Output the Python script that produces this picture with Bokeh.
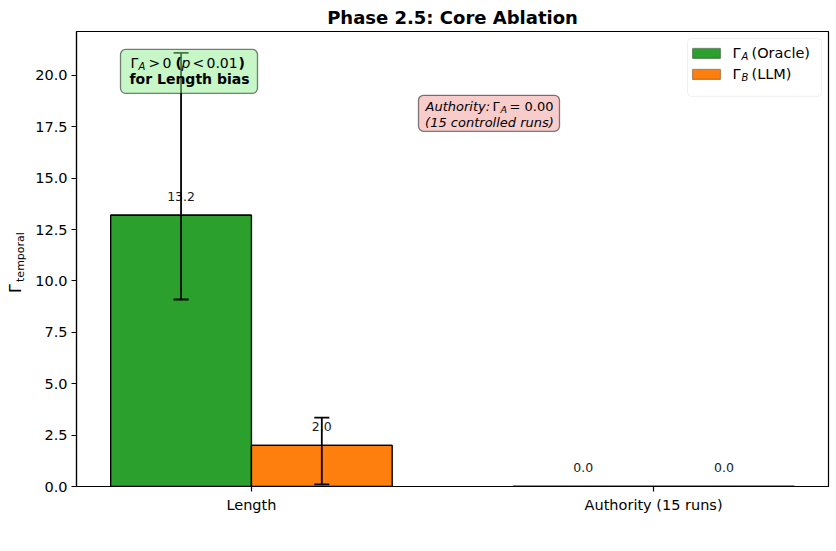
import math

from bokeh.core.properties import value
from bokeh.embed import file_html
from bokeh.models import (BoxAnnotation, ColumnDataSource, FixedTicker, Label,
                          Range1d, Span, TeeHead, Whisker)
from bokeh.plotting import figure
from bokeh.resources import INLINE

# ---- data -------------------------------------------------------------
categories = ["Length", "Authority (15 runs)"]
oracle_vals = [13.2, 0.0]          # Gamma_A (Oracle)
llm_vals = [2.0, 0.0]              # Gamma_B (LLM)
oracle_err_lo = [9.1, None]        # interval bounds (None = no error bar)
oracle_err_hi = [21.1, None]
llm_err_lo = [0.1, None]
llm_err_hi = [3.35, None]
y_ticks = [0.0, 2.5, 5.0, 7.5, 10.0, 12.5, 15.0, 17.5, 20.0]

GREEN = "#2ca02c"
ORANGE = "#ff7f0e"
FONT = "DejaVu Sans"
BAR_W = 0.35
X0, X1 = -0.435, 1.435
Y0, Y1 = 0.0, 22.14

p = figure(width=836, height=551, output_backend="svg", toolbar_location=None,
           x_range=Range1d(X0, X1), y_range=Range1d(Y0, Y1),
           min_border_left=76, min_border_right=8, min_border_top=30,
           min_border_bottom=65)
p.title.text = "Phase 2.5: Core Ablation"
p.title.align = "center"
p.title.text_font = FONT
p.title.text_font_size = "18px"
p.title.text_font_style = "bold"
p.title.text_color = "black"
p.title.standoff = 8
p.xgrid.visible = False
p.ygrid.visible = False
p.outline_line_color = "black"
p.outline_line_width = 1.2
p.background_fill_color = "white"
p.border_fill_color = "white"

for ax in (p.xaxis[0], p.yaxis[0]):
    ax.axis_line_color = "black"
    ax.axis_line_width = 1.2
    ax.major_tick_line_color = "black"
    ax.major_tick_line_width = 1.2
    ax.major_tick_out = 5
    ax.major_tick_in = 0
    ax.minor_tick_line_color = None
    ax.major_label_text_font = FONT
    ax.major_label_text_font_size = "14.5px"
    ax.major_label_text_color = "black"
    ax.major_label_standoff = 5
p.yaxis[0].major_label_standoff = 4

idx = list(range(len(categories)))
p.xaxis[0].ticker = FixedTicker(ticks=idx)
p.xaxis[0].major_label_overrides = {i: c for i, c in enumerate(categories)}
p.yaxis[0].ticker = FixedTicker(ticks=y_ticks)
p.yaxis[0].major_label_overrides = {t: f"{t:.1f}" for t in y_ticks}

# zero reference line
p.add_layout(Span(location=0, dimension="width", line_color="gray",
                  line_width=1.2, level="underlay"))

oracle_x = [i - BAR_W / 2 for i in idx]
llm_x = [i + BAR_W / 2 for i in idx]

p.vbar(x=oracle_x, top=oracle_vals, bottom=0, width=BAR_W, fill_color=GREEN,
       line_color="black", line_width=1.4)
p.vbar(x=llm_x, top=llm_vals, bottom=0, width=BAR_W, fill_color=ORANGE,
       line_color="black", line_width=1.4)
# bar top edges (keeps zero-height bars visible as a rule)
all_x = oracle_x + llm_x
all_v = oracle_vals + llm_vals
p.segment(x0=[x - BAR_W / 2 for x in all_x], x1=[x + BAR_W / 2 for x in all_x],
          y0=all_v, y1=all_v, line_color="black", line_width=1.4)

# error bars
for xs, lo, hi in ((oracle_x, oracle_err_lo, oracle_err_hi),
                   (llm_x, llm_err_lo, llm_err_hi)):
    rows = [(x, l, h) for x, l, h in zip(xs, lo, hi) if l is not None]
    src = ColumnDataSource(dict(x=[r[0] for r in rows],
                                lo=[r[1] for r in rows],
                                hi=[r[2] for r in rows]))
    p.add_layout(Whisker(source=src, base="x", lower="lo", upper="hi",
                         line_color="black", line_width=1.8, level="annotation",
                         upper_head=TeeHead(size=15, line_color="black", line_width=1.8),
                         lower_head=TeeHead(size=15, line_color="black", line_width=1.8)))

# value labels above bars
p.text(x=all_x, y=[v + 0.7 for v in all_v], text=[f"{v:.1f}" for v in all_v],
       text_font=value(FONT), text_font_size="12.5px", text_color="#1a1a1a",
       text_align="center", text_baseline="bottom")


def xd(px):
    return X0 + (px - 76) / 752 * (X1 - X0)


def yd(py):
    return Y0 + (486 - py) / 456 * (Y1 - Y0)


def txt(px, py, s, size="14px", style="normal", align="left", base="middle",
        angle=0.0, side=None):
    lab = Label(x=xd(px), y=yd(py), text=s, text_font=FONT,
                text_font_size=size, text_font_style=style, text_align=align,
                text_baseline=base, angle=angle, text_color="black")
    if side is None:
        p.add_layout(lab)
    else:
        p.add_layout(lab, side)


def box(l, r, t, b, **kw):
    p.add_layout(BoxAnnotation(left=xd(l), right=xd(r), top=yd(t), bottom=yd(b),
                               **kw))


# y-axis label: Gamma with subscript "temporal" (hosted in the left panel so
# it is not clipped to the frame)
txt(15, 292, "Γ", size="16px", angle=math.pi / 2, side="left")
txt(20, 281, "temporal", size="11px", angle=math.pi / 2, side="left")

# legend
box(687, 821, 37, 95, fill_color="white", fill_alpha=0.8, line_color="#cccccc",
    line_width=1, border_radius=4)
for color, yc, sub, name in ((GREEN, 52, "A", "(Oracle)"),
                             (ORANGE, 73, "B", "(LLM)")):
    box(692, 720, yc - 5, yc + 5, fill_color=color, fill_alpha=1,
        line_color="black", line_width=1.2)
    txt(732, yc, "Γ", size="14.5px")
    txt(741, yc + 3, sub, size="10px", style="italic")
    txt(751, yc, name, size="14.5px")

# significance note
box(120, 257, 48, 92, fill_color="lightgreen", fill_alpha=0.5,
    line_color="black", line_alpha=0.5, line_width=1.3, border_radius=5)
txt(130, 62, "Γ")
txt(138, 65, "A", size="10px", style="italic")
txt(148, 62, ">")
txt(162, 62, "0")
txt(175, 62, "(", style="bold")
txt(181, 62, "p", style="italic")
txt(192, 62, "<")
txt(206, 62, "0.01")
txt(238, 62, ")", style="bold")
txt(189, 78, "for Length bias", style="bold", align="center")

# authority note
box(418, 559, 94, 130, fill_color="lightcoral", fill_alpha=0.4,
    line_color="black", line_alpha=0.5, line_width=1.3, border_radius=5)
txt(425, 105, "Authority:", size="13px", style="italic")
txt(492, 105, "Γ", size="13px")
txt(500, 108, "A", size="9.5px", style="italic")
txt(509, 105, "= 0.00", size="13px")
txt(489, 121, "(15 controlled runs)", size="13px", style="italic", align="center")

open("out.html", "w").write(file_html(p, INLINE))
